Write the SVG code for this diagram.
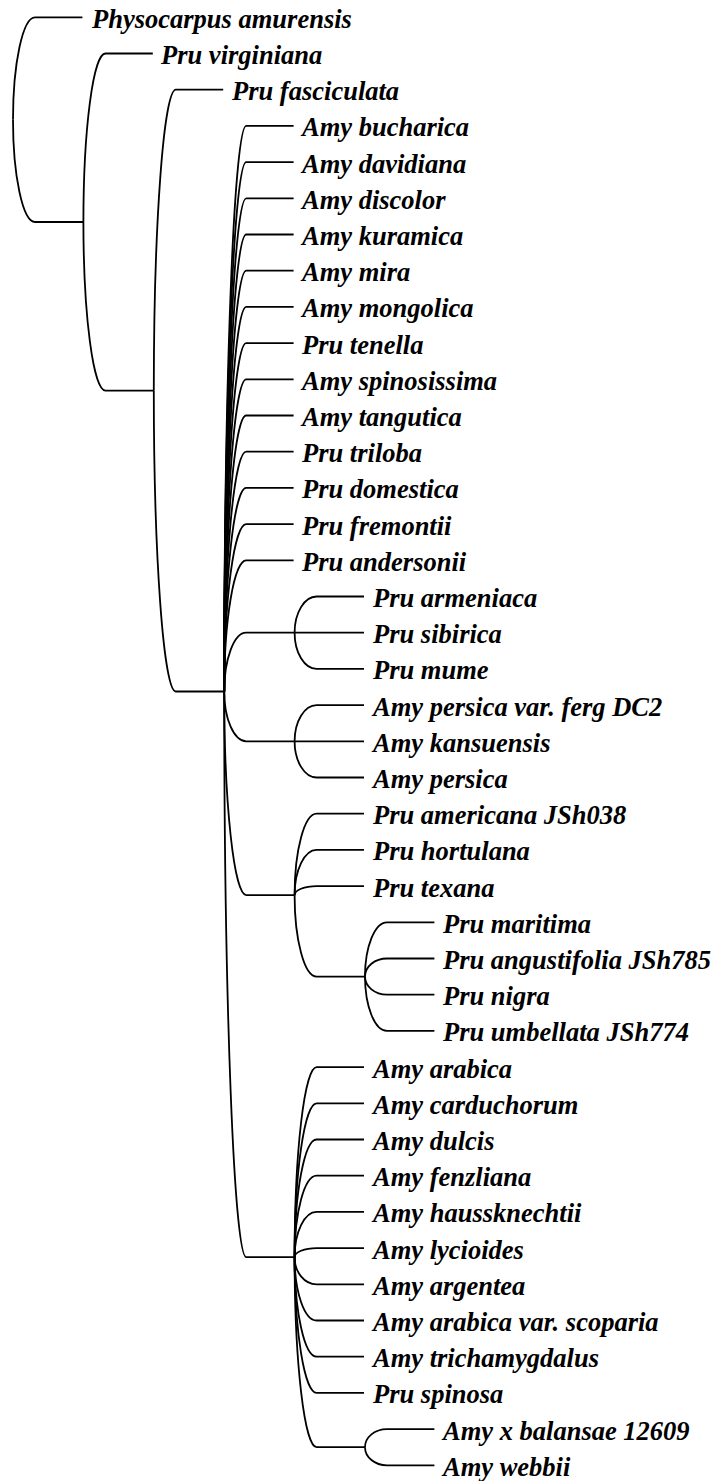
<svg xmlns="http://www.w3.org/2000/svg" width="717" height="1481" viewBox="0 0 717 1481">
<style>
.e{fill:none;stroke:#000;stroke-width:1.8}
.t{font-family:"Liberation Serif","Times New Roman",serif;font-size:26.5px;font-weight:bold;font-style:italic;fill:#000}
</style>
<rect width="717" height="1481" fill="#fff"/>
<g id="connectors" class="e">
<path d="M13,119.7 A22,102.4 0 0 1 35,17.3 H82.4"/>
<path d="M13,119.7 A22,102.3 0 0 0 35,222 H83.4"/>
<path d="M83.4,222 A22,168.5 0 0 1 105.4,53.5 H152.8"/>
<path d="M83.4,222 A22,168.6 0 0 0 105.4,390.6 H153.8"/>
<path d="M153.8,390.6 A22,300.9 0 0 1 175.8,89.7 H223.2"/>
<path d="M153.8,390.6 A22,300.9 0 0 0 175.8,691.5 H224.2"/>
<path d="M224.2,691.5 A22,565.6 0 0 1 246.2,125.9 H293.6"/>
<path d="M224.2,691.5 A22,529.4 0 0 1 246.2,162.1 H293.6"/>
<path d="M224.2,691.5 A22,493.2 0 0 1 246.2,198.3 H293.6"/>
<path d="M224.2,691.5 A22,457 0 0 1 246.2,234.5 H293.6"/>
<path d="M224.2,691.5 A22,420.8 0 0 1 246.2,270.7 H293.6"/>
<path d="M224.2,691.5 A22,384.6 0 0 1 246.2,306.9 H293.6"/>
<path d="M224.2,691.5 A22,348.4 0 0 1 246.2,343.1 H293.6"/>
<path d="M224.2,691.5 A22,312.2 0 0 1 246.2,379.3 H293.6"/>
<path d="M224.2,691.5 A22,276 0 0 1 246.2,415.5 H293.6"/>
<path d="M224.2,691.5 A22,239.8 0 0 1 246.2,451.7 H293.6"/>
<path d="M224.2,691.5 A22,203.6 0 0 1 246.2,487.9 H293.6"/>
<path d="M224.2,691.5 A22,167.4 0 0 1 246.2,524.1 H293.6"/>
<path d="M224.2,691.5 A22,131.2 0 0 1 246.2,560.3 H293.6"/>
<path d="M224.2,691.5 A22,58.8 0 0 1 246.2,632.7 H294.6"/>
<path d="M224.2,691.5 A22,49.8 0 0 0 246.2,741.3 H294.6"/>
<path d="M224.2,691.5 A22,203.65 0 0 0 246.2,895.15 H294.6"/>
<path d="M224.2,691.5 A22,565.65 0 0 0 246.2,1257.15 H294.6"/>
<path d="M294.6,632.7 A22,36.2 0 0 1 316.6,596.5 H364"/>
<path d="M294.6,632.7 H364"/>
<path d="M294.6,632.7 A22,36.2 0 0 0 316.6,668.9 H364"/>
<path d="M294.6,741.3 A22,36.2 0 0 1 316.6,705.1 H364"/>
<path d="M294.6,741.3 H364"/>
<path d="M294.6,741.3 A22,36.2 0 0 0 316.6,777.5 H364"/>
<path d="M294.6,895.15 A22,81.45 0 0 1 316.6,813.7 H364"/>
<path d="M294.6,895.15 A22,45.25 0 0 1 316.6,849.9 H364"/>
<path d="M294.6,895.15 A22,9.05 0 0 1 316.6,886.1 H364"/>
<path d="M294.6,895.15 A22,81.45 0 0 0 316.6,976.6 H365"/>
<path d="M365,976.6 A22,54.3 0 0 1 387,922.3 H434.4"/>
<path d="M365,976.6 A22,18.1 0 0 1 387,958.5 H434.4"/>
<path d="M365,976.6 A22,18.1 0 0 0 387,994.7 H434.4"/>
<path d="M365,976.6 A22,54.3 0 0 0 387,1030.9 H434.4"/>
<path d="M294.6,1257.15 A22,190.05 0 0 1 316.6,1067.1 H364"/>
<path d="M294.6,1257.15 A22,153.85 0 0 1 316.6,1103.3 H364"/>
<path d="M294.6,1257.15 A22,117.65 0 0 1 316.6,1139.5 H364"/>
<path d="M294.6,1257.15 A22,81.45 0 0 1 316.6,1175.7 H364"/>
<path d="M294.6,1257.15 A22,45.25 0 0 1 316.6,1211.9 H364"/>
<path d="M294.6,1257.15 A22,9.05 0 0 1 316.6,1248.1 H364"/>
<path d="M294.6,1257.15 A22,27.15 0 0 0 316.6,1284.3 H364"/>
<path d="M294.6,1257.15 A22,63.35 0 0 0 316.6,1320.5 H364"/>
<path d="M294.6,1257.15 A22,99.55 0 0 0 316.6,1356.7 H364"/>
<path d="M294.6,1257.15 A22,135.75 0 0 0 316.6,1392.9 H364"/>
<path d="M294.6,1257.15 A22,190.05 0 0 0 316.6,1447.2 H365"/>
<path d="M365,1447.2 A22,18.1 0 0 1 387,1429.1 H434.4"/>
<path d="M365,1447.2 A22,18.1 0 0 0 387,1465.3 H434.4"/>
</g>
<g id="leaf-00"><text class="t" x="92" y="27.8">Physocarpus amurensis</text></g>
<g id="leaf-01"><text class="t" x="161" y="64">Pru virginiana</text></g>
<g id="leaf-02"><text class="t" x="232" y="100.2">Pru fasciculata</text></g>
<g id="leaf-03"><text class="t" x="302" y="136.4">Amy bucharica</text></g>
<g id="leaf-04"><text class="t" x="302" y="172.6">Amy davidiana</text></g>
<g id="leaf-05"><text class="t" x="302" y="208.8">Amy discolor</text></g>
<g id="leaf-06"><text class="t" x="302" y="245">Amy kuramica</text></g>
<g id="leaf-07"><text class="t" x="302" y="281.2">Amy mira</text></g>
<g id="leaf-08"><text class="t" x="302" y="317.4">Amy mongolica</text></g>
<g id="leaf-09"><text class="t" x="302" y="353.6">Pru tenella</text></g>
<g id="leaf-10"><text class="t" x="302" y="389.8">Amy spinosissima</text></g>
<g id="leaf-11"><text class="t" x="302" y="426">Amy tangutica</text></g>
<g id="leaf-12"><text class="t" x="302" y="462.2">Pru triloba</text></g>
<g id="leaf-13"><text class="t" x="302" y="498.4">Pru domestica</text></g>
<g id="leaf-14"><text class="t" x="302" y="534.6">Pru fremontii</text></g>
<g id="leaf-15"><text class="t" x="302" y="570.8">Pru andersonii</text></g>
<g id="leaf-16"><text class="t" x="373" y="607">Pru armeniaca</text></g>
<g id="leaf-17"><text class="t" x="373" y="643.2">Pru sibirica</text></g>
<g id="leaf-18"><text class="t" x="373" y="679.4">Pru mume</text></g>
<g id="leaf-19"><text class="t" x="373" y="715.6">Amy persica var. ferg DC2</text></g>
<g id="leaf-20"><text class="t" x="373" y="751.8">Amy kansuensis</text></g>
<g id="leaf-21"><text class="t" x="373" y="788">Amy persica</text></g>
<g id="leaf-22"><text class="t" x="373" y="824.2">Pru americana JSh038</text></g>
<g id="leaf-23"><text class="t" x="373" y="860.4">Pru hortulana</text></g>
<g id="leaf-24"><text class="t" x="373" y="896.6">Pru texana</text></g>
<g id="leaf-25"><text class="t" x="443" y="932.8">Pru maritima</text></g>
<g id="leaf-26"><text class="t" x="443" y="969">Pru angustifolia JSh785</text></g>
<g id="leaf-27"><text class="t" x="443" y="1005.2">Pru nigra</text></g>
<g id="leaf-28"><text class="t" x="443" y="1041.4">Pru umbellata JSh774</text></g>
<g id="leaf-29"><text class="t" x="373" y="1077.6">Amy arabica</text></g>
<g id="leaf-30"><text class="t" x="373" y="1113.8">Amy carduchorum</text></g>
<g id="leaf-31"><text class="t" x="373" y="1150">Amy dulcis</text></g>
<g id="leaf-32"><text class="t" x="373" y="1186.2">Amy fenzliana</text></g>
<g id="leaf-33"><text class="t" x="373" y="1222.4">Amy haussknechtii</text></g>
<g id="leaf-34"><text class="t" x="373" y="1258.6">Amy lycioides</text></g>
<g id="leaf-35"><text class="t" x="373" y="1294.8">Amy argentea</text></g>
<g id="leaf-36"><text class="t" x="373" y="1331">Amy arabica var. scoparia</text></g>
<g id="leaf-37"><text class="t" x="373" y="1367.2">Amy trichamygdalus</text></g>
<g id="leaf-38"><text class="t" x="373" y="1403.4">Pru spinosa</text></g>
<g id="leaf-39"><text class="t" x="443" y="1439.6">Amy x balansae 12609</text></g>
<g id="leaf-40"><text class="t" x="443" y="1475.8">Amy webbii</text></g>
</svg>
